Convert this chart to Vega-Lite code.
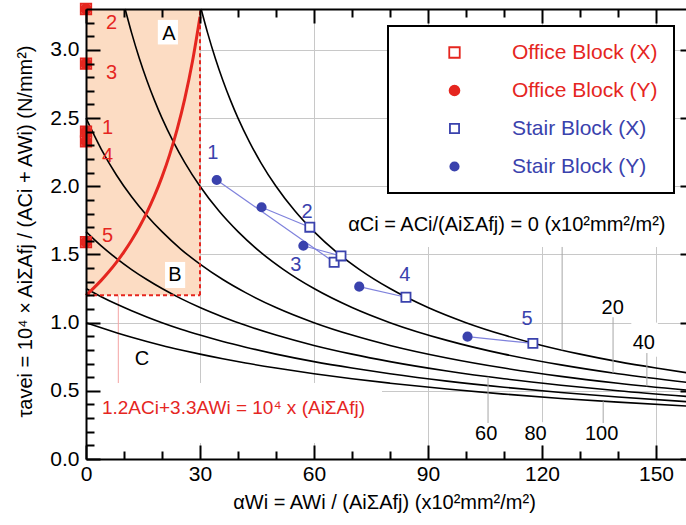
{
  "$schema": "https://vega.github.io/schema/vega-lite/v6.json",
  "width": 608,
  "height": 450,
  "autosize": {"type": "none"},
  "padding": {"left": 86, "top": 9, "right": 0, "bottom": 66},
  "background": "white",
  "config": {
    "font": "Liberation Sans",
    "view": {"stroke": null},
    "text": {"font": "Liberation Sans"},
    "legend": {
      "title": null,
      "orient": "none",
      "legendX": 302,
      "legendY": 17,
      "padding": 16,
      "rowPadding": 16,
      "symbolOffset": 40,
      "labelOffset": 47,
      "labelFontSize": 21,
      "labelLimit": 400,
      "symbolStrokeWidth": 1.8,
      "strokeColor": "black",
      "strokeWidth": 2,
      "fillColor": "white"
    }
  },
  "datasets": {
    "curves": [
      {"c": 0, "x": 30.3, "y": 3.3}, {"c": 0, "x": 32, "y": 3.125}, {"c": 0, "x": 34, "y": 2.941}, {"c": 0, "x": 36, "y": 2.778}, {"c": 0, "x": 38, "y": 2.632}, {"c": 0, "x": 40, "y": 2.5}, {"c": 0, "x": 43, "y": 2.326}, {"c": 0, "x": 46, "y": 2.174}, {"c": 0, "x": 50, "y": 2.0}, {"c": 0, "x": 55, "y": 1.818}, {"c": 0, "x": 60, "y": 1.667}, {"c": 0, "x": 66, "y": 1.515}, {"c": 0, "x": 72, "y": 1.389}, {"c": 0, "x": 80, "y": 1.25}, {"c": 0, "x": 90, "y": 1.111}, {"c": 0, "x": 100, "y": 1.0}, {"c": 0, "x": 110, "y": 0.909}, {"c": 0, "x": 120, "y": 0.833}, {"c": 0, "x": 130, "y": 0.769}, {"c": 0, "x": 140, "y": 0.714}, {"c": 0, "x": 150, "y": 0.667}, {"c": 0, "x": 160, "y": 0.625},
      {"c": 20, "x": 10.3, "y": 3.3}, {"c": 20, "x": 12, "y": 3.125}, {"c": 20, "x": 14, "y": 2.941}, {"c": 20, "x": 16, "y": 2.778}, {"c": 20, "x": 18, "y": 2.632}, {"c": 20, "x": 20, "y": 2.5}, {"c": 20, "x": 23, "y": 2.326}, {"c": 20, "x": 26, "y": 2.174}, {"c": 20, "x": 30, "y": 2.0}, {"c": 20, "x": 35, "y": 1.818}, {"c": 20, "x": 40, "y": 1.667}, {"c": 20, "x": 46, "y": 1.515}, {"c": 20, "x": 52, "y": 1.389}, {"c": 20, "x": 60, "y": 1.25}, {"c": 20, "x": 70, "y": 1.111}, {"c": 20, "x": 80, "y": 1.0}, {"c": 20, "x": 95, "y": 0.87}, {"c": 20, "x": 110, "y": 0.769}, {"c": 20, "x": 125, "y": 0.69}, {"c": 20, "x": 140, "y": 0.625}, {"c": 20, "x": 160, "y": 0.556},
      {"c": 40, "x": 0, "y": 2.5}, {"c": 40, "x": 4, "y": 2.273}, {"c": 40, "x": 8, "y": 2.083}, {"c": 40, "x": 12, "y": 1.923}, {"c": 40, "x": 16, "y": 1.786}, {"c": 40, "x": 20, "y": 1.667}, {"c": 40, "x": 25, "y": 1.538}, {"c": 40, "x": 30, "y": 1.429}, {"c": 40, "x": 36, "y": 1.316}, {"c": 40, "x": 42, "y": 1.22}, {"c": 40, "x": 50, "y": 1.111}, {"c": 40, "x": 60, "y": 1.0}, {"c": 40, "x": 70, "y": 0.909}, {"c": 40, "x": 80, "y": 0.833}, {"c": 40, "x": 95, "y": 0.741}, {"c": 40, "x": 110, "y": 0.667}, {"c": 40, "x": 125, "y": 0.606}, {"c": 40, "x": 140, "y": 0.556}, {"c": 40, "x": 160, "y": 0.5},
      {"c": 60, "x": 0, "y": 1.667}, {"c": 60, "x": 4, "y": 1.5625}, {"c": 60, "x": 8, "y": 1.471}, {"c": 60, "x": 12, "y": 1.389}, {"c": 60, "x": 16, "y": 1.316}, {"c": 60, "x": 20, "y": 1.25}, {"c": 60, "x": 25, "y": 1.176}, {"c": 60, "x": 30, "y": 1.111}, {"c": 60, "x": 36, "y": 1.042}, {"c": 60, "x": 42, "y": 0.98}, {"c": 60, "x": 50, "y": 0.909}, {"c": 60, "x": 60, "y": 0.833}, {"c": 60, "x": 70, "y": 0.769}, {"c": 60, "x": 80, "y": 0.714}, {"c": 60, "x": 95, "y": 0.645}, {"c": 60, "x": 110, "y": 0.588}, {"c": 60, "x": 125, "y": 0.541}, {"c": 60, "x": 140, "y": 0.5}, {"c": 60, "x": 160, "y": 0.455},
      {"c": 80, "x": 0, "y": 1.25}, {"c": 80, "x": 4, "y": 1.19}, {"c": 80, "x": 8, "y": 1.136}, {"c": 80, "x": 12, "y": 1.087}, {"c": 80, "x": 16, "y": 1.042}, {"c": 80, "x": 20, "y": 1.0}, {"c": 80, "x": 25, "y": 0.952}, {"c": 80, "x": 30, "y": 0.909}, {"c": 80, "x": 36, "y": 0.862}, {"c": 80, "x": 42, "y": 0.82}, {"c": 80, "x": 50, "y": 0.769}, {"c": 80, "x": 60, "y": 0.714}, {"c": 80, "x": 70, "y": 0.667}, {"c": 80, "x": 80, "y": 0.625}, {"c": 80, "x": 95, "y": 0.571}, {"c": 80, "x": 110, "y": 0.526}, {"c": 80, "x": 125, "y": 0.488}, {"c": 80, "x": 140, "y": 0.455}, {"c": 80, "x": 160, "y": 0.417},
      {"c": 100, "x": 0, "y": 1.0}, {"c": 100, "x": 4, "y": 0.962}, {"c": 100, "x": 8, "y": 0.926}, {"c": 100, "x": 12, "y": 0.893}, {"c": 100, "x": 16, "y": 0.862}, {"c": 100, "x": 20, "y": 0.833}, {"c": 100, "x": 25, "y": 0.8}, {"c": 100, "x": 30, "y": 0.769}, {"c": 100, "x": 36, "y": 0.735}, {"c": 100, "x": 42, "y": 0.704}, {"c": 100, "x": 50, "y": 0.667}, {"c": 100, "x": 60, "y": 0.625}, {"c": 100, "x": 70, "y": 0.588}, {"c": 100, "x": 80, "y": 0.556}, {"c": 100, "x": 95, "y": 0.513}, {"c": 100, "x": 110, "y": 0.476}, {"c": 100, "x": 125, "y": 0.444}, {"c": 100, "x": 140, "y": 0.417}, {"c": 100, "x": 160, "y": 0.385}
    ],
    "redcurve": [
      {"x": 0, "y": 1.2}, {"x": 2, "y": 1.2526}, {"x": 4, "y": 1.31}, {"x": 6, "y": 1.373}, {"x": 8, "y": 1.4423}, {"x": 10, "y": 1.519}, {"x": 12, "y": 1.6043}, {"x": 14, "y": 1.6997}, {"x": 16, "y": 1.8072}, {"x": 18, "y": 1.9293}, {"x": 20, "y": 2.069}, {"x": 22, "y": 2.2305}, {"x": 24, "y": 2.4194}, {"x": 26, "y": 2.6432}, {"x": 28, "y": 2.9126}, {"x": 30, "y": 3.2432}
    ],
    "points": [
      {"series": "Office Block (X)", "block": "Office", "pair": 1, "x": 0, "y": 2.40},
      {"series": "Office Block (X)", "block": "Office", "pair": 2, "x": 0, "y": 3.30},
      {"series": "Office Block (X)", "block": "Office", "pair": 3, "x": 0, "y": 2.90},
      {"series": "Office Block (X)", "block": "Office", "pair": 4, "x": 0, "y": 2.33},
      {"series": "Office Block (X)", "block": "Office", "pair": 5, "x": 0, "y": 1.59},
      {"series": "Office Block (Y)", "block": "Office", "pair": 1, "x": 0, "y": 2.40},
      {"series": "Office Block (Y)", "block": "Office", "pair": 2, "x": 0, "y": 3.30},
      {"series": "Office Block (Y)", "block": "Office", "pair": 3, "x": 0, "y": 2.90},
      {"series": "Office Block (Y)", "block": "Office", "pair": 4, "x": 0, "y": 2.33},
      {"series": "Office Block (Y)", "block": "Office", "pair": 5, "x": 0, "y": 1.59},
      {"series": "Stair Block (X)", "block": "Stair", "pair": 1, "x": 65.3, "y": 1.443},
      {"series": "Stair Block (X)", "block": "Stair", "pair": 2, "x": 58.9, "y": 1.70},
      {"series": "Stair Block (X)", "block": "Stair", "pair": 3, "x": 67.1, "y": 1.489},
      {"series": "Stair Block (X)", "block": "Stair", "pair": 4, "x": 84.2, "y": 1.186},
      {"series": "Stair Block (X)", "block": "Stair", "pair": 5, "x": 117.6, "y": 0.848},
      {"series": "Stair Block (Y)", "block": "Stair", "pair": 1, "x": 34.4, "y": 2.046},
      {"series": "Stair Block (Y)", "block": "Stair", "pair": 2, "x": 46.2, "y": 1.846},
      {"series": "Stair Block (Y)", "block": "Stair", "pair": 3, "x": 57.2, "y": 1.564},
      {"series": "Stair Block (Y)", "block": "Stair", "pair": 4, "x": 71.9, "y": 1.264},
      {"series": "Stair Block (Y)", "block": "Stair", "pair": 5, "x": 100.4, "y": 0.897}
    ],
    "region": [{"x": 0, "x2": 30, "y": 1.2, "y2": 3.3}],
    "masks": [
      {"x": 0.5, "x2": 77.9, "y": 0.117, "y2": 0.557},
      {"x": 68.2, "x2": 155, "y": 1.555, "y2": 1.97},
      {"x": 18.9, "x2": 24.2, "y": 3.04, "y2": 3.22},
      {"x": 20.8, "x2": 26.1, "y": 1.254, "y2": 1.445},
      {"x": 115, "x2": 121.5, "y": 0.1, "y2": 0.27},
      {"x": 143.5, "x2": 150.5, "y": 0.75, "y2": 1.0}
    ],
    "pink": [{"x": 8.5, "y": 0.557, "y2": 1.2}],
    "dashes": [
      {"x": 30, "x2": 30, "y": 1.2, "y2": 3.3},
      {"x": 0, "x2": 30, "y": 1.2, "y2": 1.2}
    ],
    "leaders": [
      {"x": 138.7, "y": 1.04, "y2": 0.63},
      {"x": 147.6, "y": 0.777, "y2": 0.533},
      {"x": 105.8, "y": 0.264, "y2": 0.603},
      {"x": 136.1, "y": 0.264, "y2": 0.424},
      {"x": 125.3, "y": 1.555, "y2": 0.798}
    ],
    "redLabels": [
      {"x": 6.75, "y": 3.197, "text": "2"},
      {"x": 6.75, "y": 2.834, "text": "3"},
      {"x": 5.7, "y": 2.431, "text": "1"},
      {"x": 5.7, "y": 2.224, "text": "4"},
      {"x": 5.7, "y": 1.639, "text": "5"}
    ],
    "blueLabels": [
      {"x": 33.4, "y": 2.244, "text": "1"},
      {"x": 58.2, "y": 1.814, "text": "2"},
      {"x": 55.2, "y": 1.423, "text": "3"},
      {"x": 83.9, "y": 1.35, "text": "4"},
      {"x": 116.1, "y": 1.027, "text": "5"}
    ],
    "blackLabels": [
      {"x": 21.8, "y": 3.12, "text": "A"},
      {"x": 23.4, "y": 1.35, "text": "B"},
      {"x": 14.7, "y": 0.73, "text": "C"},
      {"x": 138.6, "y": 1.11, "text": "20"},
      {"x": 146.8, "y": 0.854, "text": "40"},
      {"x": 105.3, "y": 0.18, "text": "60"},
      {"x": 118.3, "y": 0.18, "text": "80"},
      {"x": 135.7, "y": 0.18, "text": "100"}
    ],
    "redNote": [{"x": 4.2, "y": 0.374, "text": "1.2ACi+3.3AWi = 10⁴ x (AiΣAfj)"}],
    "blackNote": [{"x": 69.0, "y": 1.716, "text": "αCi = ACi/(AiΣAfj) = 0 (x10²mm²/m²)"}]
  },
  "layer": [
    {
      "data": {"name": "region"},
      "mark": {"type": "rect", "color": "#fcdcc3"},
      "encoding": {
        "x": {"field": "x", "type": "quantitative", "scale": {"domain": [0, 160], "nice": false, "zero": false}, "axis": null},
        "x2": {"field": "x2"},
        "y": {"field": "y", "type": "quantitative", "scale": {"domain": [0, 3.3], "nice": false, "zero": false}, "axis": null},
        "y2": {"field": "y2"}
      }
    },
    {
      "data": {"name": "pink"},
      "mark": {"type": "rule", "color": "#f4a3a3", "strokeWidth": 1},
      "encoding": {
        "x": {"field": "x", "type": "quantitative", "axis": null},
        "y": {"field": "y", "type": "quantitative", "axis": null},
        "y2": {"field": "y2"}
      }
    },
    {
      "data": {"name": "masks"},
      "mark": {"type": "rect", "color": "white"},
      "encoding": {
        "x": {"field": "x", "type": "quantitative", "axis": null},
        "x2": {"field": "x2"},
        "y": {"field": "y", "type": "quantitative", "axis": null},
        "y2": {"field": "y2"}
      }
    },
    {
      "data": {"name": "curves"},
      "mark": {"type": "line", "color": "black", "strokeWidth": 1.6, "interpolate": "monotone"},
      "encoding": {
        "x": {"field": "x", "type": "quantitative", "scale": {"domain": [0, 160], "nice": false, "zero": false},
          "axis": {"orient": "bottom", "values": [0, 30, 60, 90, 120, 150], "format": "d", "grid": true, "gridColor": "#c8c8c8", "gridWidth": 1, "ticks": false, "tickSize": 0, "domain": false, "labels": true, "labelFontSize": 21, "labelColor": "black", "labelPadding": 4, "labelFlush": false, "labelOverlap": false, "zindex": 0,
            "title": "αWi = AWi / (AiΣAfj) (x10²mm²/m²)", "titleFontSize": 20, "titleFontWeight": "normal", "titleColor": "black", "titleX": 298, "titleY": 43, "titleAlign": "center", "titleBaseline": "middle", "titleAngle": 0}},
        "y": {"field": "y", "type": "quantitative", "scale": {"domain": [0, 3.3], "nice": false, "zero": false},
          "axis": {"orient": "left", "values": [0, 0.5, 1, 1.5, 2, 2.5, 3], "format": ".1f", "grid": true, "gridColor": "#c8c8c8", "gridWidth": 1, "ticks": false, "tickSize": 0, "domain": false, "labels": true, "labelFontSize": 21, "labelColor": "black", "labelPadding": 7, "labelFlush": false, "labelOverlap": false, "zindex": 0,
            "title": "τavei = 10⁴ × AiΣAfj / (ACi + AWi) (N/mm²)", "titleFontSize": 20, "titleFontWeight": "normal", "titleColor": "black", "titleX": -61, "titleY": 222, "titleAlign": "center", "titleBaseline": "middle", "titleAngle": -90}},
        "detail": {"field": "c", "type": "nominal"}
      }
    },
    {
      "data": {"name": "redcurve"},
      "mark": {"type": "line", "color": "#e5261f", "strokeWidth": 3, "interpolate": "monotone"},
      "encoding": {
        "x": {"field": "x", "type": "quantitative",
          "axis": {"orient": "bottom", "values": [0, 30, 60, 90, 120, 150], "grid": false, "labels": false, "ticks": true, "tickSize": -14, "tickWidth": 2, "tickColor": "black", "domain": true, "domainWidth": 2, "domainColor": "black", "title": null, "zindex": 1}},
        "y": {"field": "y", "type": "quantitative",
          "axis": {"orient": "left", "values": [0, 0.5, 1, 1.5, 2, 2.5, 3], "grid": false, "labels": false, "ticks": true, "tickSize": -14, "tickWidth": 2, "tickColor": "black", "domain": true, "domainWidth": 2, "domainColor": "black", "title": null, "zindex": 1}}
      }
    },
    {
      "data": {"name": "dashes"},
      "mark": {"type": "rule", "color": "#e5261f", "strokeWidth": 2, "strokeDash": [4, 3]},
      "encoding": {
        "x": {"field": "x", "type": "quantitative", "axis": null},
        "x2": {"field": "x2"},
        "y": {"field": "y", "type": "quantitative", "axis": null},
        "y2": {"field": "y2"}
      }
    },
    {
      "data": {"name": "leaders"},
      "mark": {"type": "rule", "color": "#a6a6a6", "strokeWidth": 1},
      "encoding": {
        "x": {"field": "x", "type": "quantitative",
          "axis": {"orient": "bottom", "values": [10, 20, 40, 50, 70, 80, 100, 110, 130, 140], "grid": false, "labels": false, "ticks": true, "tickSize": -8, "tickWidth": 2, "tickColor": "black", "domain": false, "title": null, "zindex": 1}},
        "y": {"field": "y", "type": "quantitative",
          "axis": {"orient": "left", "values": [0.1, 0.2, 0.3, 0.4, 0.6, 0.7, 0.8, 0.9, 1.1, 1.2, 1.3, 1.4, 1.6, 1.7, 1.8, 1.9, 2.1, 2.2, 2.3, 2.4, 2.6, 2.7, 2.8, 2.9, 3.1, 3.2], "grid": false, "labels": false, "ticks": true, "tickSize": -8, "tickWidth": 2, "tickColor": "black", "domain": false, "title": null, "zindex": 1}},
        "y2": {"field": "y2"}
      }
    },
    {
      "data": {"name": "points"},
      "transform": [{"filter": {"field": "block", "equal": "Stair"}}],
      "mark": {"type": "line", "color": "#7f82dc", "strokeWidth": 1.2},
      "encoding": {
        "x": {"field": "x", "type": "quantitative",
          "axis": {"orient": "top", "values": [0, 30, 60, 90, 120, 150], "grid": false, "labels": false, "ticks": true, "tickSize": -14, "tickWidth": 2, "tickColor": "black", "domain": true, "domainWidth": 2, "domainColor": "black", "title": null, "zindex": 1}},
        "y": {"field": "y", "type": "quantitative",
          "axis": {"orient": "right", "values": [0, 0.5, 1, 1.5, 2, 2.5, 3], "grid": false, "labels": false, "ticks": true, "tickSize": -14, "tickWidth": 2, "tickColor": "black", "domain": true, "domainWidth": 2, "domainColor": "black", "title": null, "zindex": 1}},
        "detail": {"field": "pair", "type": "nominal"}
      }
    },
    {
      "data": {"name": "points"},
      "mark": {"type": "point", "filled": true, "strokeWidth": 1.8, "opacity": 1},
      "encoding": {
        "x": {"field": "x", "type": "quantitative",
          "axis": {"orient": "top", "values": [10, 20, 40, 50, 70, 80, 100, 110, 130, 140, 160], "grid": false, "labels": false, "ticks": true, "tickSize": -8, "tickWidth": 2, "tickColor": "black", "domain": false, "title": null, "zindex": 1}},
        "y": {"field": "y", "type": "quantitative",
          "axis": {"orient": "right", "values": [0.1, 0.2, 0.3, 0.4, 0.6, 0.7, 0.8, 0.9, 1.1, 1.2, 1.3, 1.4, 1.6, 1.7, 1.8, 1.9, 2.1, 2.2, 2.3, 2.4, 2.6, 2.7, 2.8, 2.9, 3.1, 3.2], "grid": false, "labels": false, "ticks": true, "tickSize": -8, "tickWidth": 2, "tickColor": "black", "domain": false, "title": null, "zindex": 1}},
        "shape": {"field": "series", "type": "nominal",
          "scale": {"domain": ["Office Block (X)", "Office Block (Y)", "Stair Block (X)", "Stair Block (Y)"], "range": ["square", "circle", "square", "circle"]},
          "legend": {"labelColor": {"expr": "indexof(datum.label, 'Office') >= 0 ? '#e5261f' : '#3a42ad'"}}},
        "fill": {"field": "series", "type": "nominal",
          "scale": {"domain": ["Office Block (X)", "Office Block (Y)", "Stair Block (X)", "Stair Block (Y)"], "range": ["white", "#e5261f", "white", "#3a42ad"]},
          "legend": {"labelColor": {"expr": "indexof(datum.label, 'Office') >= 0 ? '#e5261f' : '#3a42ad'"}}},
        "stroke": {"field": "series", "type": "nominal",
          "scale": {"domain": ["Office Block (X)", "Office Block (Y)", "Stair Block (X)", "Stair Block (Y)"], "range": ["#e5261f", "#e5261f", "#3a42ad", "#3a42ad"]},
          "legend": {"labelColor": {"expr": "indexof(datum.label, 'Office') >= 0 ? '#e5261f' : '#3a42ad'"}}},
        "size": {"field": "series", "type": "nominal",
          "scale": {"domain": ["Office Block (X)", "Office Block (Y)", "Stair Block (X)", "Stair Block (Y)"], "range": [110, 70, 125, 80]},
          "legend": {"labelColor": {"expr": "indexof(datum.label, 'Office') >= 0 ? '#e5261f' : '#3a42ad'"}}}
      }
    },
    {
      "data": {"name": "redLabels"},
      "mark": {"type": "text", "color": "#e5261f", "fontSize": 20, "align": "center", "baseline": "middle"},
      "encoding": {
        "x": {"field": "x", "type": "quantitative", "axis": null},
        "y": {"field": "y", "type": "quantitative", "axis": null},
        "text": {"field": "text"}
      }
    },
    {
      "data": {"name": "blueLabels"},
      "mark": {"type": "text", "color": "#3a42ad", "fontSize": 20, "align": "center", "baseline": "middle"},
      "encoding": {
        "x": {"field": "x", "type": "quantitative", "axis": null},
        "y": {"field": "y", "type": "quantitative", "axis": null},
        "text": {"field": "text"}
      }
    },
    {
      "data": {"name": "blackLabels"},
      "mark": {"type": "text", "color": "black", "fontSize": 20, "align": "center", "baseline": "middle"},
      "encoding": {
        "x": {"field": "x", "type": "quantitative", "axis": null},
        "y": {"field": "y", "type": "quantitative", "axis": null},
        "text": {"field": "text"}
      }
    },
    {
      "data": {"name": "redNote"},
      "mark": {"type": "text", "color": "#e5261f", "fontSize": 19, "align": "left", "baseline": "middle"},
      "encoding": {
        "x": {"field": "x", "type": "quantitative", "axis": null},
        "y": {"field": "y", "type": "quantitative", "axis": null},
        "text": {"field": "text"}
      }
    },
    {
      "data": {"name": "blackNote"},
      "mark": {"type": "text", "color": "black", "fontSize": 20, "align": "left", "baseline": "middle"},
      "encoding": {
        "x": {"field": "x", "type": "quantitative", "axis": null},
        "y": {"field": "y", "type": "quantitative", "axis": null},
        "text": {"field": "text"}
      }
    }
  ],
  "resolve": {"axis": {"x": "independent", "y": "independent"}}
}
